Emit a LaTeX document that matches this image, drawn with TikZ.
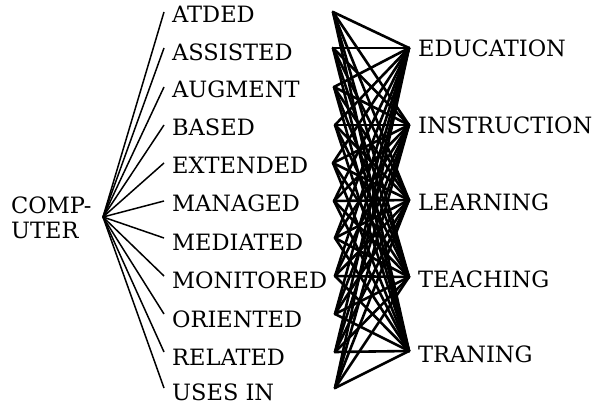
\documentclass[tikz,border=0pt]{standalone}
\usepackage{fontspec}
\setmainfont{DejaVu Serif}
\begin{document}
\begin{tikzpicture}[x=1pt,y=-1pt,
  lbl/.style={anchor=base west, inner sep=0pt, font=\fontsize{22.5}{26}\selectfont},
  fan/.style={line width=1.5pt},
  web/.style={line width=2.6pt, line cap=round, line join=round}]
\useasboundingbox (0,0) rectangle (605,404);
% left label
\node[lbl] (c1) at (11,213) {COMP-};
\node[lbl] (c2) at (11,238) {UTER};
\coordinate (h) at (103,217);
% middle words
\foreach \t/\b/\e/\x [count=\i] in {ATDED/23/12/333, ASSISTED/60/48/333, AUGMENT/97/87/334, BASED/135/125/335,
  EXTENDED/173/163/333, MANAGED/211/201/334, MEDIATED/250/238/335, MONITORED/288/276/335,
  ORIENTED/327/314/335, RELATED/365/352/335, USES IN/400/388/335} {
  \node[lbl] (w\i) at (172,\b) {\t};
  \coordinate (a\i) at (164,\e);
  \coordinate (b\i) at (\x,\e);
}
% targets
\foreach \t/\y/\b [count=\j] in {EDUCATION/48/57, INSTRUCTION/125/133, LEARNING/200/210,
  TEACHING/277/287, TRANING/351/362} {
  \coordinate (t\j) at (409,\y);
  \node[lbl] (r\j) at (418,\b) {\t};
}
% connectors
\foreach \i in {1,...,11} {
  \draw[fan] (h) -- (a\i);
  \foreach \j in {1,...,5} {
    \draw[web] (b\i) -- (t\j);
  }
}
\end{tikzpicture}
\end{document}
